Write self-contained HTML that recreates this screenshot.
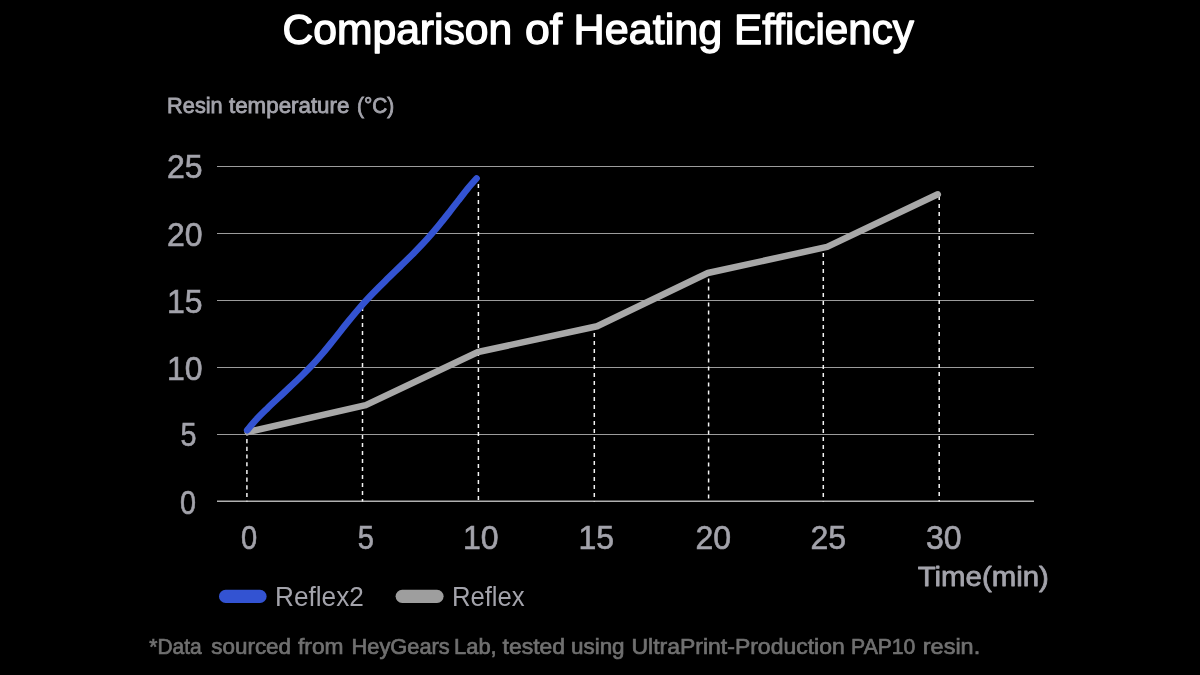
<!DOCTYPE html>
<html lang="en">
<head>
<meta charset="utf-8">
<title>Comparison of Heating Efficiency</title>
<style>
html,body{margin:0;padding:0;background:#000;}
body{width:1200px;height:675px;overflow:hidden;}
svg{display:block;}
text{font-family:"Liberation Sans",sans-serif;}
.title text{fill:#fff;font-size:42px;stroke:#fff;stroke-width:1.3px;stroke-linejoin:round;}
.ax{fill:#a3a3ab;font-size:32.7px;stroke:#a3a3ab;stroke-width:0.6px;}
.sub text{fill:#a3a3ab;font-size:21.4px;stroke:#a3a3ab;stroke-width:0.8px;}
.leg{fill:#a3a3ab;font-size:28.2px;}
.time{fill:#a3a3ab;font-size:27.5px;stroke:#a3a3ab;stroke-width:0.8px;stroke-linejoin:round;}
.foot text{fill:#707070;font-size:22.5px;stroke:#707070;stroke-width:0.7px;}
</style>
</head>
<body>
<svg width="1200" height="675" viewBox="0 0 1200 675">
<rect width="1200" height="675" fill="#000"/>
<g class="title">
<text y="44"><tspan x="282.4" textLength="229.9" lengthAdjust="spacingAndGlyphs">Comparison</tspan> <tspan x="525" textLength="37.2" lengthAdjust="spacingAndGlyphs">of</tspan> <tspan x="573.6" textLength="148.7" lengthAdjust="spacingAndGlyphs">Heating</tspan> <tspan x="734" textLength="180" lengthAdjust="spacingAndGlyphs">Efficiency</tspan></text>
</g>
<g class="sub">
<text y="112.6"><tspan x="167.1" textLength="55.6" lengthAdjust="spacingAndGlyphs">Resin</tspan> <tspan x="229.0" textLength="120.4" lengthAdjust="spacingAndGlyphs">temperature</tspan> <tspan x="357.0" textLength="37.2" lengthAdjust="spacingAndGlyphs">(°C)</tspan></text>
</g>

<g stroke="#9c9c9c" stroke-width="1">
<line x1="217" y1="166.5" x2="1034" y2="166.5"/>
<line x1="217" y1="233.5" x2="1034" y2="233.5"/>
<line x1="217" y1="300.5" x2="1034" y2="300.5"/>
<line x1="217" y1="367.5" x2="1034" y2="367.5"/>
<line x1="217" y1="434.5" x2="1034" y2="434.5"/>
<line x1="217" y1="501.25" x2="1034" y2="501.25" stroke="#b0b0b0" stroke-width="1.5"/>
</g>

<g stroke="#f4f4f4" stroke-width="1.5" stroke-dasharray="4 4">
<line x1="246.9" y1="431.4" x2="246.9" y2="501.5" stroke-dasharray="4.1 3.6"/>
<line x1="362.5" y1="307" x2="362.5" y2="501.5"/>
<line x1="478.4" y1="184" x2="478.4" y2="501.5"/>
<line x1="594.3" y1="333" x2="594.3" y2="501.5"/>
<line x1="708.6" y1="278.6" x2="708.6" y2="501.5"/>
<line x1="823.3" y1="253" x2="823.3" y2="501.5"/>
<line x1="939.2" y1="196" x2="939.2" y2="501.5"/>
</g>

<polyline fill="none" stroke="#a8a8a8" stroke-width="6.5" stroke-linecap="round" stroke-linejoin="round"
 points="247.6,432 365.8,405.1 478,352 597.1,326.2 707.8,273 827.1,246.9 937.8,194.3"/>

<path fill="none" stroke="#3353d2" stroke-width="6.6" stroke-linecap="round" stroke-linejoin="round"
 d="M247.2,430.2 C248.7,428.4 253.1,422.9 256.5,419.3 C259.8,415.6 263.6,412.0 267.4,408.3 C271.1,404.7 275.1,401.0 278.9,397.4 C282.8,393.7 286.8,390.1 290.6,386.4 C294.5,382.8 298.4,379.1 302.0,375.5 C305.7,371.8 309.3,368.2 312.7,364.5 C316.1,360.9 319.3,357.2 322.4,353.6 C325.5,349.9 328.5,346.3 331.4,342.6 C334.4,339.0 337.2,335.3 340.1,331.7 C343.0,328.0 345.9,324.4 348.9,320.7 C351.8,317.1 354.8,313.4 357.9,309.8 C361.1,306.1 364.3,302.5 367.7,298.8 C371.1,295.2 374.7,291.5 378.3,287.9 C381.9,284.2 385.7,280.6 389.4,276.9 C393.1,273.3 397.0,269.6 400.7,266.0 C404.5,262.3 408.2,258.7 411.9,255.0 C415.5,251.4 419.1,247.7 422.5,244.1 C425.9,240.4 429.1,236.8 432.3,233.1 C435.4,229.5 438.4,225.8 441.4,222.2 C444.4,218.5 447.2,214.9 450.1,211.2 C453.0,207.6 455.8,203.9 458.6,200.3 C461.4,196.6 464.1,193.0 467.1,189.3 C470.1,185.7 475.0,180.2 476.6,178.4"/>

<g class="ax">
<text x="167.0" y="178.1" textLength="35.6" lengthAdjust="spacingAndGlyphs">25</text>
<text x="167.0" y="246.0" textLength="35.6" lengthAdjust="spacingAndGlyphs">20</text>
<text x="167.0" y="313.2" textLength="35.6" lengthAdjust="spacingAndGlyphs">15</text>
<text x="167.0" y="379.7" textLength="35.6" lengthAdjust="spacingAndGlyphs">10</text>
<text x="180.5" y="446.3" textLength="16" lengthAdjust="spacingAndGlyphs">5</text>
<text x="180.0" y="514.1" textLength="16" lengthAdjust="spacingAndGlyphs">0</text>
</g>
<g class="ax" text-anchor="middle">
<text x="249.2" y="548.8" textLength="16.2" lengthAdjust="spacingAndGlyphs">0</text>
<text x="365.8" y="548.8" textLength="16.2" lengthAdjust="spacingAndGlyphs">5</text>
<text x="480.8" y="548.8" textLength="35.6" lengthAdjust="spacingAndGlyphs">10</text>
<text x="596.3" y="548.8" textLength="35.6" lengthAdjust="spacingAndGlyphs">15</text>
<text x="713.3" y="548.8" textLength="35.6" lengthAdjust="spacingAndGlyphs">20</text>
<text x="828.3" y="548.8" textLength="35.6" lengthAdjust="spacingAndGlyphs">25</text>
<text x="943.8" y="548.8" textLength="35.6" lengthAdjust="spacingAndGlyphs">30</text>
</g>
<text class="time" x="917.7" y="586.4" id="t_time" textLength="131.2" lengthAdjust="spacingAndGlyphs">Time(min)</text>

<rect x="219" y="589.8" width="47.6" height="13.2" rx="6.6" fill="#3353d2"/>
<text class="leg" x="275.0" y="606.2" id="t_l1" textLength="88.8" lengthAdjust="spacingAndGlyphs">Reflex2</text>
<rect x="395.6" y="589.7" width="48" height="13.2" rx="6.6" fill="#9e9e9e"/>
<text class="leg" x="451.9" y="606.2" id="t_l2" textLength="72.8" lengthAdjust="spacingAndGlyphs">Reflex</text>

<g class="foot">
<text y="654.3"><tspan x="149.3" textLength="52.5" lengthAdjust="spacingAndGlyphs">*Data</tspan> <tspan x="211.3" textLength="79.7" lengthAdjust="spacingAndGlyphs">sourced</tspan> <tspan x="298.0" textLength="45.5" lengthAdjust="spacingAndGlyphs">from</tspan> <tspan x="351.5" textLength="98.3" lengthAdjust="spacingAndGlyphs">HeyGears</tspan> <tspan x="454.0" textLength="42.7" lengthAdjust="spacingAndGlyphs">Lab,</tspan> <tspan x="502.5" textLength="62.6" lengthAdjust="spacingAndGlyphs">tested</tspan> <tspan x="571.0" textLength="53.6" lengthAdjust="spacingAndGlyphs">using</tspan> <tspan x="631.5" textLength="213.2" lengthAdjust="spacingAndGlyphs">UltraPrint-Production</tspan> <tspan x="851.1" textLength="64.3" lengthAdjust="spacingAndGlyphs">PAP10</tspan> <tspan x="922.8" textLength="57.4" lengthAdjust="spacingAndGlyphs">resin.</tspan></text>
</g>
</svg>
</body>
</html>
